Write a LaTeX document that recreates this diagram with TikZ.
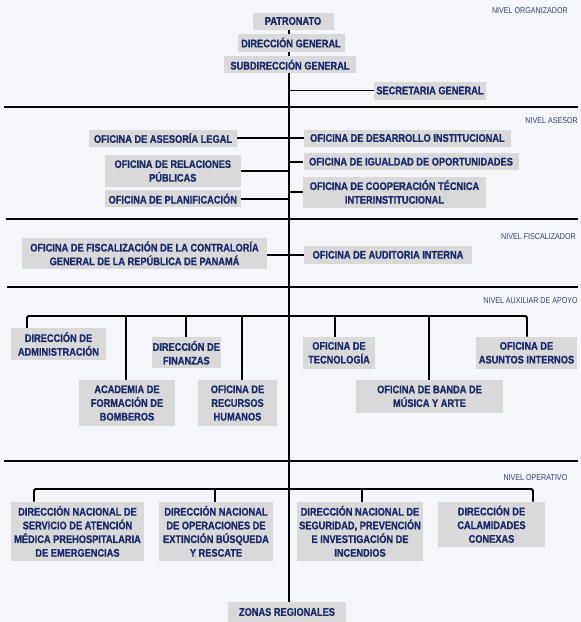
\documentclass[tikz,border=0pt]{standalone}
\usepackage{fontspec}
\setmainfont{Liberation Sans}[FakeStretch=0.84, BoldFeatures={FakeBold=1.0}]
\definecolor{azul}{RGB}{28,42,106}
\definecolor{gris}{RGB}{217,217,217}
\definecolor{fondo}{RGB}{245,246,250}
\definecolor{azulnivel}{RGB}{52,64,112}
\pgfdeclarelayer{capafondo}
\pgfdeclarelayer{capalineas}
\pgfsetlayers{capafondo,capalineas,main}
\begin{document}
\begin{tikzpicture}[x=1pt, y=-1pt,
        caja/.style={fill=gris, text=azul, font=\fontsize{11}{13.7}\selectfont\bfseries,
        align=center, inner sep=0pt},
        nivel/.style={text=azulnivel, font=\fontsize{8.5}{9}\selectfont, anchor=east, inner sep=0pt},
        linea/.style={black, line width=1.9pt},
        separador/.style={black, line width=2.3pt}]
        \begin{pgfonlayer}{capafondo}
        \fill[fondo] (0,0) rectangle (581,622);
        \end{pgfonlayer}
        \useasboundingbox (0,0) rectangle (581,622);
        \node[nivel] (nv1) at (568,10.5) {NIVEL ORGANIZADOR};
        \node[nivel] (nv2) at (578,121) {NIVEL ASESOR};
        \node[nivel] (nv3) at (576,237) {NIVEL FISCALIZADOR};
        \node[nivel] (nv4) at (578,300.5) {NIVEL AUXILIAR DE APOYO};
        \node[nivel] (nv5) at (567.5,477.5) {NIVEL OPERATIVO};
        \node[caja, minimum width=81, minimum height=17] (pat) at (293,21) {PATRONATO};
        \node[caja, minimum width=107, minimum height=18] (dg) at (291,42.5) {DIRECCIÓN GENERAL};
        \node[caja, minimum width=132, minimum height=17] (sdg) at (290,64.7) {SUBDIRECCIÓN GENERAL};
        \node[caja, minimum width=112, minimum height=18] (sec) at (430,90.5) {SECRETARIA GENERAL};
        \node[caja, minimum width=148, minimum height=17] (legal) at (163,138) {OFICINA DE ASESORÍA LEGAL};
        \node[caja, minimum width=136, minimum height=32] (relpub) at (172.8,171) {OFICINA DE RELACIONES\\PÚBLICAS};
        \node[caja, minimum width=136, minimum height=17] (plan) at (172.8,198.7) {OFICINA DE PLANIFICACIÓN};
        \node[caja, minimum width=207, minimum height=17] (desar) at (407.4,138) {OFICINA DE DESARROLLO INSTITUCIONAL};
        \node[caja, minimum width=215, minimum height=17] (igual) at (411,161.7) {OFICINA DE IGUALDAD DE OPORTUNIDADES};
        \node[caja, minimum width=183, minimum height=31] (coop) at (394.5,192) {OFICINA DE COOPERACIÓN TÉCNICA\\INTERINSTITUCIONAL};
        \node[caja, minimum width=245, minimum height=31] (fisc) at (144.5,253.5) {OFICINA DE FISCALIZACIÓN DE LA CONTRALORÍA\\GENERAL DE LA REPÚBLICA DE PANAMÁ};
        \node[caja, minimum width=168.5, minimum height=18] (aud) at (388,254.8) {OFICINA DE AUDITORIA INTERNA};
        \node[caja, minimum width=95, minimum height=32] (adm) at (58.5,344) {DIRECCIÓN DE\\ADMINISTRACIÓN};
        \node[caja, minimum width=96, minimum height=46] (acad) at (127,403) {ACADEMIA DE\\FORMACIÓN DE\\BOMBEROS};
        \node[caja, minimum width=69, minimum height=31] (fin) at (186.3,352.8) {DIRECCIÓN DE\\FINANZAS};
        \node[caja, minimum width=79, minimum height=46] (rrhh) at (237.5,403) {OFICINA DE\\RECURSOS\\HUMANOS};
        \node[caja, minimum width=72, minimum height=32] (tec) at (339,352.8) {OFICINA DE\\TECNOLOGÍA};
        \node[caja, minimum width=147, minimum height=33] (banda) at (429.5,396.3) {OFICINA DE BANDA DE\\MÚSICA Y ARTE};
        \node[caja, minimum width=101, minimum height=32] (asun) at (526.5,352.8) {OFICINA DE\\ASUNTOS INTERNOS};
        \node[caja, minimum width=133, minimum height=59] (samu) at (77.5,531.3) {DIRECCIÓN NACIONAL DE\\SERVICIO DE ATENCIÓN\\MÉDICA PREHOSPITALARIA\\DE EMERGENCIAS};
        \node[caja, minimum width=114, minimum height=59] (ops) at (216,531.3) {DIRECCIÓN NACIONAL\\DE OPERACIONES DE\\EXTINCIÓN BÚSQUEDA\\Y RESCATE};
        \node[caja, minimum width=126, minimum height=59] (seg) at (360,531.3) {DIRECCIÓN NACIONAL DE\\SEGURIDAD, PREVENCIÓN\\E INVESTIGACIÓN DE\\INCENDIOS};
        \node[caja, minimum width=107, minimum height=45] (cal) at (491.5,524.2) {DIRECCIÓN DE\\CALAMIDADES\\CONEXAS};
        \node[caja, minimum width=118, minimum height=20] (zon) at (287,612) {ZONAS REGIONALES};
        \coordinate (t0) at (289,21);
        \foreach \n/\x in {a1/27, a2/126, a3/185.7, a4/241.7, a5/335, a6/429, a7/527}
        \coordinate (\n) at (\x,316);
        \foreach \n/\x in {o1/34, o2/215, o3/362, o4/533}
        \coordinate (\n) at (\x,489);
        \begin{pgfonlayer}{capalineas}
        \foreach \y/\xa in {107/4, 219/6, 287/7, 461/4}
        \draw[separador] (\xa,\y) -- (578,\y);
        \draw[linea] (t0 |- pat.south) -- (t0 |- zon.north);
        \draw[linea] (t0 |- sec.west) -- (sec.west);
        \draw[linea] (legal.east) -- (desar.west);
        \draw[linea] (relpub.east) -- (relpub.east -| t0);
        \draw[linea] (plan.east) -- (plan.east -| t0);
        \draw[linea] (t0 |- igual.west) -- (igual.west);
        \draw[linea] (t0 |- coop.west) -- (coop.west);
        \draw[linea] (fisc.east |- aud.west) -- (aud.west);
        \draw[linea, rounded corners=1.5pt] (a1 |- adm.north) -- (a1) -- (a7) -- (a7 |- asun.north);
        \foreach \c/\n in {a2/acad, a3/fin, a4/rrhh, a5/tec, a6/banda}
        \draw[linea] (\c) -- (\c |- \n.north);
        \draw[linea, rounded corners=1.5pt] (o1 |- samu.north) -- (o1) -- (o4) -- (o4 |- cal.north);
        \foreach \c/\n in {o2/ops, o3/seg}
        \draw[linea] (\c) -- (\c |- \n.north);
        \end{pgfonlayer}
    \end{tikzpicture}
\end{document}
